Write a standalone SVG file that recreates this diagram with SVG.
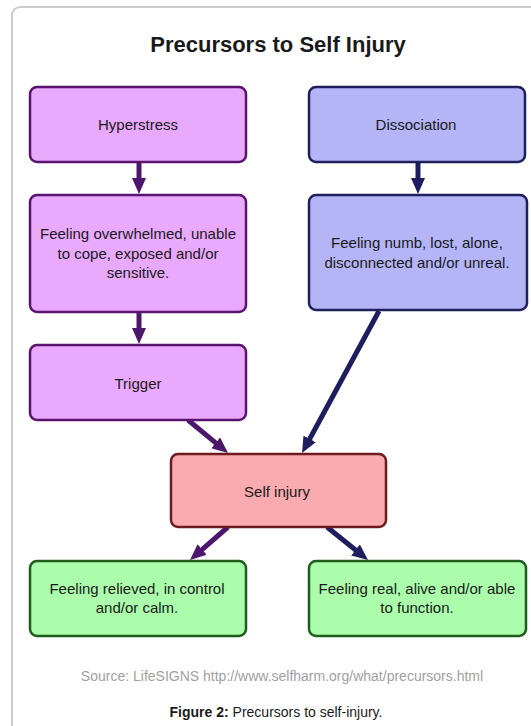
<svg xmlns="http://www.w3.org/2000/svg" width="531" height="726" viewBox="0 0 531 726">
<style>
text{font-family:"Liberation Sans",Arial,sans-serif;fill:#1a1a1a;text-anchor:middle}
.n{font-size:15px}
.purple{fill:#e9a9fd;stroke:#5a1470;stroke-width:2.5}
.blue{fill:#b4b4f7;stroke:#1f1f5c;stroke-width:2.5}
.red{fill:#f9abb0;stroke:#6e1a1e;stroke-width:2.5}
.green{fill:#abfcab;stroke:#1d5e1d;stroke-width:2.5}
.ap{stroke:#4b166b;stroke-width:5;fill:none;marker-end:url(#hp)}
.an{stroke:#1e1e5e;stroke-width:5;fill:none;marker-end:url(#hn)}
</style>
<defs>
<marker id="hp" viewBox="0 0 16 14" markerWidth="16" markerHeight="14" refX="2" refY="7" markerUnits="userSpaceOnUse" orient="auto"><path d="M0,0 L16,7 L0,14 z" fill="#4b166b"/></marker>
<marker id="hn" viewBox="0 0 16 14" markerWidth="16" markerHeight="14" refX="2" refY="7" markerUnits="userSpaceOnUse" orient="auto"><path d="M0,0 L16,7 L0,14 z" fill="#1e1e5e"/></marker>
</defs>
<rect x="0" y="0" width="531" height="726" fill="#ffffff"/>
<rect x="12" y="7" width="560" height="760" rx="8" fill="none" stroke="#cccccc" stroke-width="2"/>
<text x="278" y="52" style="font-size:22px;font-weight:bold">Precursors to Self Injury</text>

<g id="connectors">
<line class="ap" x1="139" y1="162" x2="139" y2="180"/>
<line class="an" x1="418" y1="162" x2="418" y2="180"/>
<line class="ap" x1="139" y1="312" x2="139" y2="330"/>
<line class="ap" x1="188" y1="420" x2="217.2" y2="444.1"/>
<line class="an" x1="379" y1="311" x2="308.7" y2="440.7"/>
<line class="ap" x1="228" y1="527" x2="200.6" y2="550.8"/>
<line class="an" x1="327" y1="527" x2="357.1" y2="551.2"/>
</g>

<g id="hyperstress"><rect class="purple" x="30" y="87" width="216" height="75" rx="7"/><text class="n" x="138" y="130">Hyperstress</text></g>
<g id="overwhelmed"><rect class="purple" x="30" y="195" width="216" height="117" rx="7"/>
<text class="n" x="138" y="239">Feeling overwhelmed, unable</text>
<text class="n" x="138" y="259">to cope, exposed and/or</text>
<text class="n" x="138" y="278">sensitive.</text></g>
<g id="trigger"><rect class="purple" x="30" y="345" width="216" height="75" rx="7"/><text class="n" x="138" y="389">Trigger</text></g>

<g id="dissociation"><rect class="blue" x="309" y="87" width="216" height="75" rx="7"/><text class="n" x="416" y="130">Dissociation</text></g>
<g id="numb"><rect class="blue" x="309" y="195" width="218" height="115" rx="7"/>
<text class="n" x="417" y="248">Feeling numb, lost, alone,</text>
<text class="n" x="417" y="268">disconnected and/or unreal.</text></g>

<g id="selfinjury"><rect class="red" x="171" y="454" width="215" height="73" rx="7"/><text class="n" x="277" y="497">Self injury</text></g>

<g id="relieved"><rect class="green" x="30" y="561" width="216" height="75" rx="7"/>
<text class="n" x="137" y="594">Feeling relieved, in control</text>
<text class="n" x="137" y="613">and/or calm.</text></g>
<g id="real"><rect class="green" x="309" y="561" width="217" height="75" rx="7"/>
<text class="n" x="417" y="594">Feeling real, alive and/or able</text>
<text class="n" x="417" y="613">to function.</text></g>

<text x="282" y="681" style="font-size:14px;fill:#a0a0a0">Source: LifeSIGNS http://www.selfharm.org/what/precursors.html</text>
<text x="276" y="717" style="font-size:14px"><tspan font-weight="bold">Figure 2:</tspan> Precursors to self-injury.</text>
</svg>
